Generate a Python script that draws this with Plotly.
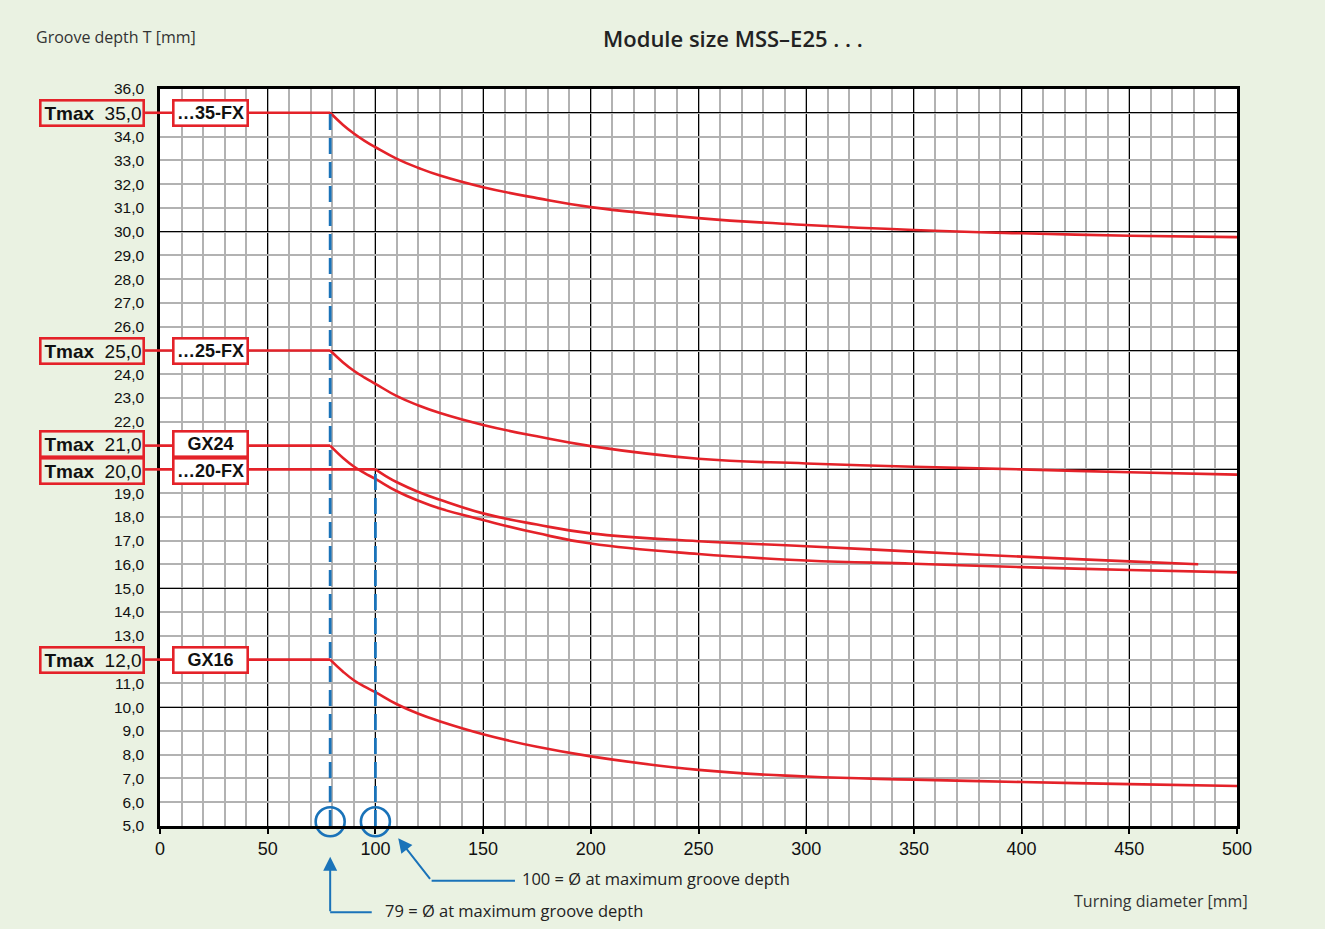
import plotly.graph_objects as go

# groove depth T [mm] over turning diameter [mm]
fx35_x = [0, 79, 85, 90, 95, 100, 110, 120, 130, 150, 175, 200, 250, 300, 350, 400, 450, 500]
fx35_y = [35.0, 35.0, 34.49, 34.13, 33.82, 33.55, 33.06, 32.68, 32.36, 31.87, 31.41, 31.03, 30.57, 30.28, 30.07, 29.93, 29.83, 29.77]

fx25_x = [0, 79, 85, 90, 95, 100, 110, 120, 130, 150, 175, 200, 250, 300, 350, 400, 450, 500]
fx25_y = [25.0, 25.0, 24.5, 24.15, 23.86, 23.6, 23.08, 22.69, 22.37, 21.87, 21.39, 20.98, 20.45, 20.25, 20.11, 20.0, 19.88, 19.78]

gx24_x = [0, 79, 85, 90, 95, 100, 110, 120, 130, 150, 175, 200, 250, 300, 350, 400, 450, 500]
gx24_y = [21.0, 21.0, 20.48, 20.12, 19.84, 19.6, 19.08, 18.68, 18.35, 17.87, 17.32, 16.88, 16.44, 16.17, 16.03, 15.89, 15.77, 15.67]

fx20_x = [0, 100, 105, 110, 120, 130, 150, 175, 200, 250, 300, 350, 400, 450, 482]
fx20_y = [20.0, 20.0, 19.71, 19.46, 19.05, 18.72, 18.15, 17.68, 17.31, 16.98, 16.77, 16.54, 16.33, 16.13, 16.01]

gx16_x = [0, 79, 85, 90, 95, 100, 110, 120, 130, 150, 175, 200, 250, 300, 350, 400, 450, 500]
gx16_y = [12.0, 12.0, 11.49, 11.13, 10.86, 10.63, 10.12, 9.72, 9.4, 8.86, 8.33, 7.93, 7.36, 7.08, 6.95, 6.85, 6.76, 6.68]

series_names = ['…35-FX', '…25-FX', 'GX24', '…20-FX', 'GX16']
tmax_values = [35.0, 25.0, 21.0, 20.0, 12.0]

# diameters at maximum groove depth and the depth the marker line reaches
d_at_max = [79, 100]
d_line_top = [35.0, 20.0]

y_ticks = list(range(5, 37))
y_tick_labels = ['' if t in tmax_values else f'{t:.1f}'.replace('.', ',') for t in y_ticks]
y_major = [10, 15, 20, 25, 30, 35]
x_ticks = list(range(0, 501, 50))

RED = '#E42229'
BLUE = '#1A73B9'
BG = '#EAF2E2'
TXT = 'Open Sans'

fig = go.Figure()

# blue marker lines for the diameters at max groove depth (on y2 so the black grid exists)
for d, top in zip(d_at_max, d_line_top):
    fig.add_trace(go.Scatter(
        x=[d, d], y=[5, top], mode='lines', yaxis='y2',
        line=dict(color=BLUE, width=2.8, dash='16px,8px'),
        hoverinfo='skip'
    ))

curves = [(fx35_x, fx35_y), (fx25_x, fx25_y), (gx24_x, gx24_y), (fx20_x, fx20_y), (gx16_x, gx16_y)]
for (xs, ys), name in zip(curves, series_names):
    # flat part up to the max-depth diameter, then the falling curve
    fig.add_trace(go.Scatter(x=xs[:2], y=ys[:2], mode='lines', name=name,
                             line=dict(color=RED, width=2.6)))
    fig.add_trace(go.Scatter(x=xs[1:], y=ys[1:], mode='lines', name=name,
                             line=dict(color=RED, width=2.6, shape='spline', smoothing=1.3)))

# circles at the bottom axis
fig.add_trace(go.Scatter(
    x=d_at_max, y=[5.18, 5.18], mode='markers',
    marker=dict(symbol='circle-open', size=29, color=BLUE, line=dict(width=2.6)),
    cliponaxis=False, hoverinfo='skip'
))

annotations = []
shapes = []
yshift = {21.0: 2, 20.0: -2}
for t, name in zip(tmax_values, series_names):
    label = f'{t:.1f}'.replace('.', ',')
    annotations.append(dict(
        xref='paper', yref='y', x=-0.0139, y=t, xanchor='right', yanchor='middle',
        text=f'<b>Tmax</b>&nbsp;&nbsp;{label}', showarrow=False, align='right',
        width=99, height=21, bordercolor=RED, borderwidth=2.6, borderpad=1,
        bgcolor=BG, yshift=yshift.get(t, 0),
        font=dict(family='Liberation Sans', size=19, color='#111')
    ))
    annotations.append(dict(
        xref='x', yref='y', x=0, y=t, xanchor='left', yanchor='middle', xshift=12,
        text=f'<b>{name}</b>', showarrow=False, align='center',
        width=70, height=21, bordercolor=RED, borderwidth=2.6, borderpad=1,
        bgcolor='white', yshift=yshift.get(t, 0),
        font=dict(family='Liberation Sans', size=18, color='#111')
    ))
    shapes.append(dict(type='line', xref='paper', yref='y', x0=-0.0139, x1=0, y0=t, y1=t,
                       line=dict(color=RED, width=2.6)))

# pointer arrows and notes below the axis
note_font = dict(family=TXT, size=16.5, color='#222')
annotations += [
    dict(xref='x', yref='paper', x=110.6, y=-0.0167, ax=33, ay=42, text='',
         showarrow=True, arrowhead=2, arrowsize=1.4, arrowwidth=2, arrowcolor=BLUE),
    dict(xref='x', yref='paper', x=167, y=-0.0719, xanchor='left', yanchor='middle',
         text=f'{d_at_max[1]} = Ø at maximum groove depth', showarrow=False, font=note_font),
    dict(xref='x', yref='paper', x=d_at_max[0], y=-0.0417, ax=0, ay=56, text='',
         showarrow=True, arrowhead=2, arrowsize=1.4, arrowwidth=2, arrowcolor=BLUE),
    dict(xref='x', yref='paper', x=103.5, y=-0.114, xanchor='left', yanchor='middle',
         text=f'{d_at_max[0]} = Ø at maximum groove depth', showarrow=False, font=note_font),
    dict(xref='paper', yref='paper', x=-0.117, y=1.0706, xanchor='left', yanchor='middle',
         text='Groove depth T [mm]', showarrow=False, font=dict(family=TXT, size=16, color='#333')),
    dict(xref='paper', yref='paper', x=1.012, y=-0.1018, xanchor='right', yanchor='middle',
         text='Turning diameter [mm]', showarrow=False, font=dict(family=TXT, size=16, color='#333')),
    dict(xref='paper', yref='paper', x=0.532, y=1.0692, xanchor='center', yanchor='middle',
         text='Module size MSS–E25 . . .', showarrow=False,
         font=dict(family=TXT, size=22, color='#222', weight=600)),
]
shapes += [
    dict(type='line', xref='x', yref='paper', x0=126.1, x1=164.8, y0=-0.0742, y1=-0.0742,
         line=dict(color=BLUE, width=2)),
    dict(type='line', xref='x', yref='paper', x0=d_at_max[0], x1=98.3, y0=-0.1171, y1=-0.1171,
         line=dict(color=BLUE, width=2)),
]

fig.update_layout(
    width=1325, height=929,
    margin=dict(l=160, r=88, t=89, b=103),
    paper_bgcolor=BG, plot_bgcolor='white',
    showlegend=False,
    annotations=annotations,
    shapes=shapes,
    xaxis=dict(
        range=[0, 500], tickvals=x_ticks, ticks='outside', ticklen=5, tickwidth=1.5, tickcolor='black',
        showgrid=True, gridcolor='black', gridwidth=1.4,
        minor=dict(dtick=10, tick0=0, showgrid=True, gridcolor='#B2B2B2', gridwidth=1.8, ticks=''),
        showline=True, linecolor='black', linewidth=2.6, mirror=True, zeroline=False,
        tickfont=dict(family='Liberation Sans', size=18, color='#111'), ticklabelstandoff=0
    ),
    yaxis=dict(
        range=[5, 36], tickvals=y_ticks, ticktext=y_tick_labels, ticks='',
        showgrid=True, gridcolor='#B2B2B2', gridwidth=1.8,
        showline=True, linecolor='black', linewidth=2.6, mirror=True, zeroline=False,
        tickfont=dict(family='Liberation Sans', size=15.5, color='#111'), ticklabelstandoff=10
    ),
    yaxis2=dict(
        range=[5, 36], overlaying='y', side='left', tickvals=y_major, showticklabels=False,
        ticks='', showgrid=True, gridcolor='black', gridwidth=1.4, zeroline=False, showline=False
    ),
)

fig.write_html('out.html', config={'displayModeBar': False},
               post_script="document.body.style.margin='0';")
